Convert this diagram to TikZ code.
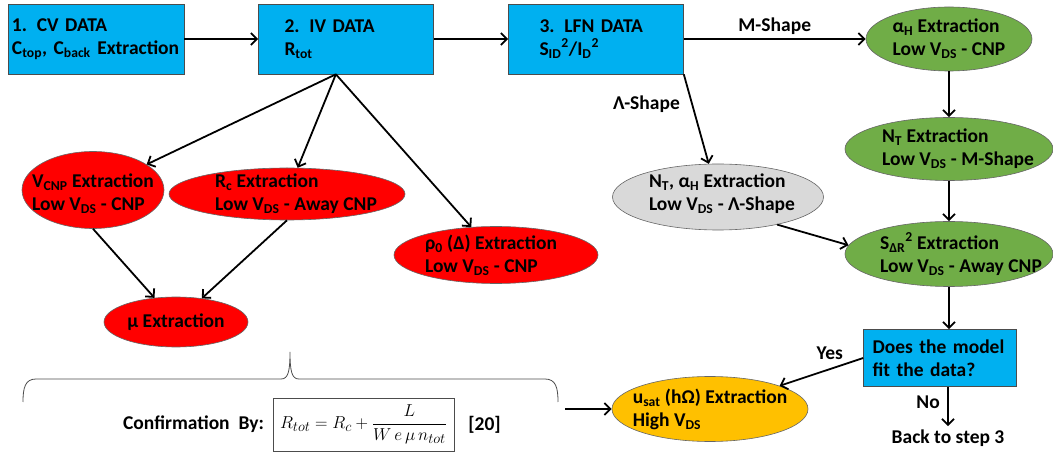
\documentclass[tikz,border=0pt]{standalone}
\usepackage{fontspec}
\setmainfont{Carlito}
\usetikzlibrary{arrows.meta,shapes.geometric,positioning}

\definecolor{stepblue}{RGB}{0,176,240}
\definecolor{ivred}{RGB}{255,0,0}
\definecolor{lfngreen}{RGB}{112,173,71}
\definecolor{lambdagray}{RGB}{217,217,217}
\definecolor{satorange}{RGB}{255,192,0}

\tikzset{
  stepbox/.style={draw=black!70, line width=0.6pt, fill=stepblue, align=left, minimum height=70pt},
  oval/.style={ellipse, draw=black!60, line width=0.6pt, inner sep=0pt},
  ivoval/.style={oval, fill=ivred},
  lfnoval/.style={oval, fill=lfngreen},
  flow/.style={->, line width=1.8pt}
}

\begin{document}
\begin{tikzpicture}[on grid, >={Straight Barb[length=6pt,width=12pt]},
  every node/.style={font=\bfseries\fontsize{19.5}{23}\selectfont}]
\useasboundingbox (0,0) rectangle (1053pt,-454pt);

\node (A) [stepbox, text width=168pt, inner xsep=4pt] at (96pt,-39pt) {1. CV DATA\\C\textsubscript{top}, C\textsubscript{back} Extraction};
\node (B) [stepbox, text width=123pt, inner xsep=26pt, right = 250pt of A] {2. IV DATA\\R\textsubscript{tot}};
\node (C) [stepbox, text width=113pt, inner xsep=31pt, right = 250pt of B] {3. LFN DATA\\S\textsubscript{ID}\textsuperscript{2}/I\textsubscript{D}\textsuperscript{2}};

\node (ga) [lfnoval, minimum width=166pt, minimum height=64pt, right = 353pt of C,
  label={[align=left]center:α\textsubscript{H} Extraction\\Low V\textsubscript{DS} - CNP}] {};
\node (gn) [lfnoval, minimum width=208pt, minimum height=63pt, below = 110pt of ga,
  label={[align=left, xshift=9pt]center:N\textsubscript{T} Extraction\\Low V\textsubscript{DS} - M-Shape}] {};
\node (gs) [lfnoval, minimum width=208pt, minimum height=65pt, below = 105pt of gn,
  label={[align=left, xshift=12pt]center:S\textsubscript{ΔR}\textsuperscript{2} Extraction\\Low V\textsubscript{DS} - Away CNP}] {};
\node (nta) [oval, fill=lambdagray, minimum width=211pt, minimum height=66pt, below right = 158pt and 122pt of C,
  label={[align=left, xshift=4pt, yshift=3pt]center:{N\textsubscript{T}, α\textsubscript{H} Extraction\\Low V\textsubscript{DS} - Λ-Shape}}] {};
\node (D) [stepbox, text width=135pt, inner xsep=9pt, minimum height=57pt, below left = 104pt and 9pt of gs] {Does the model\\fit the data?};
\node (back) [below right = 80pt and 8pt of D] {Back to step 3};
\node (usat) [oval, fill=satorange, minimum width=196pt, minimum height=65pt, below left = 51pt and 230pt of D,
  label={[align=left]center:u\textsubscript{sat} (hΩ) Extraction\\High V\textsubscript{DS}}] {};

\node (vcnp) [ivoval, minimum width=142pt, minimum height=77pt, below left = 151pt and 253pt of B,
  label={[align=left, yshift=-4pt]center:V\textsubscript{CNP} Extraction\\Low V\textsubscript{DS} - CNP}] {};
\node (rc) [ivoval, minimum width=236pt, minimum height=52pt, below left = 155pt and 59pt of B,
  label={[align=left, xshift=9pt]center:R\textsubscript{c} Extraction\\Low V\textsubscript{DS} - Away CNP}] {};
\node (rho) [ivoval, minimum width=204pt, minimum height=57pt, below right = 216pt and 150pt of B,
  label={[align=left, xshift=-5pt]center:ρ\textsubscript{0} (Δ) Extraction\\Low V\textsubscript{DS} - CNP}] {};
\node (mu) [ivoval, minimum width=144pt, minimum height=50pt, below right = 132pt and 83pt of vcnp,
  label=center:μ Extraction] {};

\node (eq) [draw=black!70, line width=0.6pt, minimum width=181pt, minimum height=53pt, font=\fontsize{19}{22}\selectfont,
  below right = 102.5pt and 187.5pt of mu] {$R_{tot} = R_c + \displaystyle\frac{L}{W\,e\,\mu\,n_{tot}}$};
\node (conf) [left = 170pt of eq] {Confirmation~ By:};
\node (ref) [right = 121pt of eq] {[20]};
\coordinate [left = 145pt of usat] (bs);

% brace under the IV branch
\draw[black!70, line width=0.8pt] (23pt,-402pt) .. controls (23pt,-388pt) and (25pt,-379pt) .. (36pt,-379pt)
  -- (281pt,-379pt) .. controls (288pt,-379pt) and (290pt,-372pt) .. (290pt,-352pt)
  .. controls (290pt,-372pt) and (292pt,-379pt) .. (299pt,-379pt)
  -- (545pt,-379pt) .. controls (556pt,-379pt) and (558pt,-388pt) .. (558pt,-402pt);

\draw[flow] (A) -- (B);
\draw[flow] (B) -- (C);
\draw[flow] (C) -- node[midway, above] {M-Shape} (ga);
\draw[flow] (C.south east) -- node[pos=0.33, left=8pt] {Λ-Shape} (nta);
\draw[flow] (B.254) -- (vcnp);
\draw[flow] (B.254) -- (rc);
\draw[flow] (B.254) -- (rho);
\draw[flow] (vcnp.south) -- (mu);
\draw[flow] (rc.south) -- (mu);
\draw[flow] (ga) -- (gn);
\draw[flow] (gn) -- (gs);
\draw[flow] (nta.-25) -- (gs.175);
\draw[flow] (gs.south) -- (gs.south |- D.north);
\draw[flow] (D.west) -- node[pos=0.4, above=5pt] {Yes} (usat);
\draw[flow] (back |- D.south) -- node[pos=0.4, left=4pt] {No} (back);
\draw[flow] (bs) -- (usat);

\end{tikzpicture}
\end{document}
